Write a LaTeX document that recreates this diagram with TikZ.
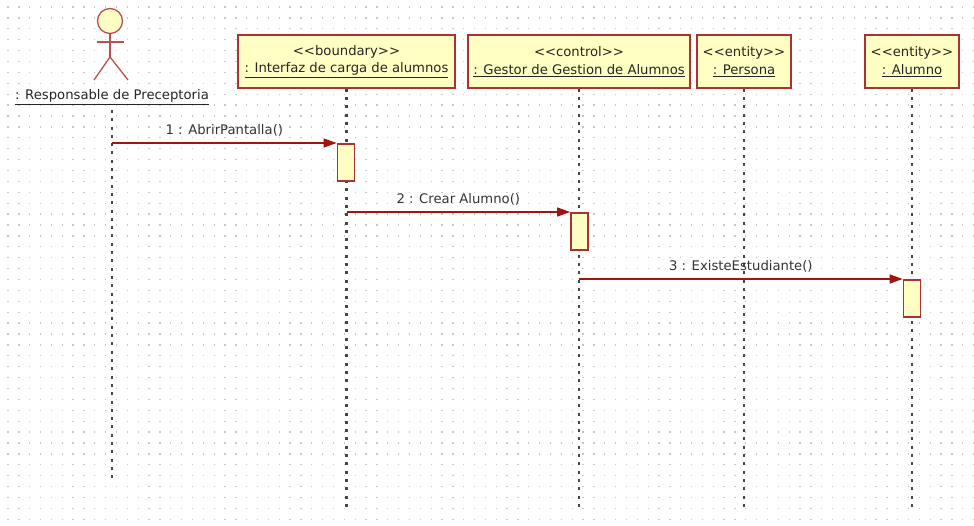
\documentclass[tikz,border=0pt]{standalone}
\usepackage{fontspec}
\setmainfont{DejaVu Sans}
\usetikzlibrary{arrows.meta}
\definecolor{umlfill}{RGB}{255,255,196}
\definecolor{umlborder}{RGB}{170,50,50}
\definecolor{msgred}{RGB}{160,20,20}
\definecolor{lifegray}{RGB}{70,70,70}
\definecolor{griddot}{RGB}{200,200,200}
\newcommand{\stereo}[1]{<\kern0pt<#1>\kern0pt>}
\tikzset{
  objbox/.style={draw=umlborder, fill=umlfill, line width=1.6pt, minimum height=53pt, inner sep=0pt, align=center, font=\fontsize{13.2}{17.5}\selectfont, text=black!85},
  actbox/.style={draw=umlborder, fill=umlfill, line width=1.6pt, minimum width=17pt, minimum height=37pt, inner sep=0pt},
  lifeline/.style={draw=lifegray, line width=2.2pt, dash pattern=on 3pt off 5.3pt},
  msg/.style={draw=msgred, line width=1.3pt, -{Triangle[length=13pt,width=9pt]}},
  msglabel/.style={font=\fontsize{13.2}{15}\selectfont, text=black!80, inner sep=1pt},
  gridline/.style={draw=griddot, line width=1.3pt, dash pattern=on 1.3pt off 9.55pt},
  actorline/.style={draw=umlborder!85, line width=1.3pt}
}
\begin{document}
\begin{tikzpicture}[x=1pt,y=-1pt]
\useasboundingbox (0,0) rectangle (974,526);
\fill[white] (0,0) rectangle (974,526);
% dotted background grid
\foreach \gy in {7,17.9,...,526} {
  \draw[gridline] (7.35,\gy) -- (974,\gy);
}
% actor
\draw[actorline, fill=umlfill] (110,21) circle (12.5);
\draw[actorline] (110,33.5) -- (110,57);
\draw[actorline] (97,42) -- (124,42);
\draw[actorline] (94,80) -- (110,57) -- (128,80);
\node[font=\fontsize{13.2}{15}\selectfont, text=black!85, inner sep=1pt] (actor) at (112,97) {\underline{: Responsable de Preceptoria}};
% object boxes
\node[objbox, minimum width=217pt] (ui) at (346.5,61.5) {\stereo{boundary}\\\underline{: Interfaz de carga de alumnos}};
\node[objbox, minimum width=222pt] (ctl) at (579,61.5) {\stereo{control}\\\underline{: Gestor de Gestion de Alumnos}};
\node[objbox, minimum width=94pt] (per) at (744,61.5) {\stereo{entity}\\\underline{: Persona}};
\node[objbox, minimum width=94pt] (alu) at (912,61.5) {\stereo{entity}\\\underline{: Alumno}};
% lifeline ends
\coordinate (actorTop) at (112,110);
\coordinate (actorEnd) at (112,480);
\coordinate (uiEnd) at (ui.south |- 0,507);
\coordinate (ctlEnd) at (ctl.south |- 0,507);
\coordinate (perEnd) at (per.south |- 0,507);
\coordinate (aluEnd) at (alu.south |- 0,507);
\draw[lifeline] (actorTop) -- (actorEnd);
\draw[lifeline] (ui.south) -- (uiEnd);
\draw[lifeline] (ctl.south) -- (ctlEnd);
\draw[lifeline] (per.south) -- (perEnd);
\draw[lifeline] (alu.south) -- (aluEnd);
% activations
\node[actbox, anchor=north] (a1) at (346,143) {};
\node[actbox, anchor=north] (a2) at (579.5,212) {};
\node[actbox, anchor=north] (a3) at (912,279) {};
% message start points on source lifelines
\coordinate (m1s) at (112,143);
\coordinate (m2s) at (ui.south |- 0,212);
\coordinate (m3s) at (ctl.south |- 0,279);
\draw[msg] (m1s) -- (a1.north west) node[msglabel, midway, above=5pt] (l1) {1 : AbrirPantalla()};
\draw[msg] (m2s) -- (a2.north west) node[msglabel, midway, above=5pt] (l2) {2 : Crear Alumno()};
\draw[msg] (m3s) -- (a3.north west) node[msglabel, midway, above=5pt] (l3) {3 : ExisteEstudiante()};
\end{tikzpicture}
\end{document}
